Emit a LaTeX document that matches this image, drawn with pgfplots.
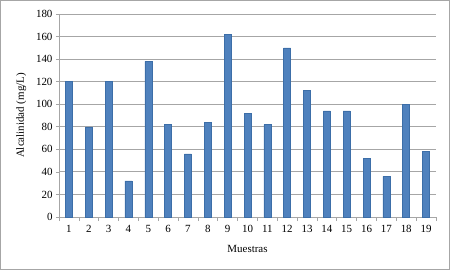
\documentclass[border=0pt]{standalone}
\usepackage{pgfplots}
\pgfplotsset{compat=1.18}
\usepackage{fontspec}
\setmainfont{Liberation Serif}
\definecolor{barfill}{HTML}{4F81BD}
\definecolor{bardraw}{HTML}{3C6EA8}
\definecolor{gridc}{HTML}{A6A6A6}
\begin{document}
\begin{tikzpicture}
\useasboundingbox (-59bp,-53bp) rectangle (391bp,217bp);
\draw[gridc, line width=0.8bp] (-58.5bp,-52.5bp) rectangle (390.5bp,216.5bp);
\begin{axis}[
  at={(0,0)}, anchor=origin,
  scale only axis, width=377bp, height=203bp,
  xmin=0.5, xmax=19.5, ymin=0, ymax=180,
  ytick={0,20,...,180},
  xtick={1,...,19},
  minor xtick={0.5,1.5,...,19.5},
  major x tick style={draw=none},
  minor x tick style={gridc, line width=0.6bp},
  minor tick length=4bp,
  major tick length=3bp,
  tick align=outside,
  ytick style={gridc, line width=0.6bp},
  ymajorgrids, grid style={gridc, line width=0.8bp},
  axis x line*=bottom, axis y line*=left,
  axis line style={gridc, line width=0.8bp, -},
  tick label style={font=\fontsize{11}{13}\selectfont},
  /pgf/number format/assume math mode=true,
  xlabel={Muestras}, ylabel={Alcalinidad (mg/L)},
  label style={font=\fontsize{11}{13}\selectfont},
  xlabel style={yshift=-6bp},
  ylabel style={yshift=3bp},
  xticklabel style={yshift=-2bp},
  ybar, bar width=7bp,
]
\addplot[fill=barfill, draw=bardraw, line width=0.5bp] coordinates {
(1,120) (2,80) (3,120) (4,32) (5,138) (6,82) (7,56) (8,84) (9,162) (10,92)
(11,82) (12,150) (13,112) (14,94) (15,94) (16,52) (17,36) (18,100) (19,58)};
\end{axis}
\end{tikzpicture}
\end{document}
